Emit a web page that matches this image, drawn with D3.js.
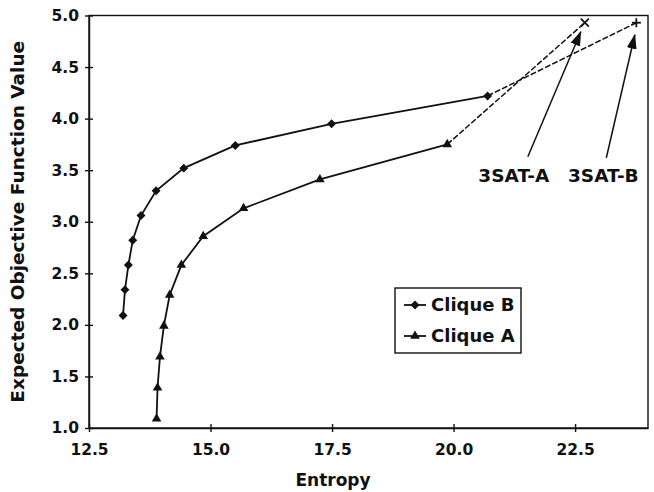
<!DOCTYPE html>
<html>
<head>
<meta charset="utf-8">
<script src="https://cdn.jsdelivr.net/npm/d3@7"></script>
<style>
  body { margin: 0; background: #fff; }
  svg text { font-family: "DejaVu Sans", "Liberation Sans", sans-serif; font-weight: bold; fill: #111; }
</style>
</head>
<body>
<svg id="chart"></svg>
<script>
const xTicks = [12.5, 15.0, 17.5, 20.0, 22.5];
const yTicks = [1.0, 1.5, 2.0, 2.5, 3.0, 3.5, 4.0, 4.5, 5.0];

const cliqueBEntropy = [13.20, 13.24, 13.31, 13.40, 13.57, 13.88, 14.45, 15.51, 17.49, 20.70];
const cliqueBValue   = [2.09, 2.34, 2.58, 2.82, 3.06, 3.30, 3.52, 3.74, 3.95, 4.22];

const cliqueAEntropy = [13.89, 13.91, 13.96, 14.04, 14.16, 14.40, 14.85, 15.68, 17.25, 19.87];
const cliqueAValue   = [1.09, 1.39, 1.69, 1.99, 2.29, 2.58, 2.86, 3.13, 3.41, 3.75];

const satLabels  = ["3SAT-A", "3SAT-B"];
const satEntropy = [22.70, 23.76];
const satValue   = [4.93, 4.93];

const legendLabels = ["Clique B", "Clique A"];

const width = 654, height = 492;
const margin = { top: 15.5, right: 6, bottom: 64, left: 89 };
const w = width - margin.left - margin.right;
const h = height - margin.top - margin.bottom;

const svg = d3.select("#chart").attr("width", width).attr("height", height);
const g = svg.append("g").attr("transform", `translate(${margin.left},${margin.top})`);

const x = d3.scaleLinear().domain([12.5, 24]).range([0, w]);
const y = d3.scaleLinear().domain([1, 5]).range([h, 0]);

// plot border
g.append("rect").attr("width", w).attr("height", h)
  .attr("fill", "none").attr("stroke", "#111").attr("stroke-width", 1.4);

const xAxis = g.append("g").attr("transform", `translate(0,${h})`)
  .call(d3.axisBottom(x).tickValues(xTicks).tickFormat(d3.format(".1f")).tickSizeOuter(0));
xAxis.selectAll(".tick line").attr("y1", -4).attr("y2", 4).attr("stroke", "#111").attr("stroke-width", 1.4);
xAxis.selectAll(".tick text").attr("y", 16).attr("font-size", 15.5);
xAxis.select(".domain").attr("stroke", "#111").attr("stroke-width", 1.4);

const yAxis = g.append("g")
  .call(d3.axisLeft(y).tickValues(yTicks).tickFormat(d3.format(".1f")).tickSizeOuter(0));
yAxis.selectAll(".tick line").attr("x1", -4).attr("x2", 4).attr("stroke", "#111").attr("stroke-width", 1.4);
yAxis.selectAll(".tick text").attr("x", -10).attr("font-size", 15.5);
yAxis.select(".domain").attr("stroke", "#111").attr("stroke-width", 1.4);

svg.append("text").attr("x", 333).attr("y", 486)
  .attr("text-anchor", "middle").attr("font-size", 17).text("Entropy");

svg.append("text")
  .attr("transform", `translate(24,${margin.top + h / 2}) rotate(-90)`)
  .attr("text-anchor", "middle").attr("font-size", 18.5)
  .text("Expected Objective Function Value");

const line = d3.line().x(d => x(d[0])).y(d => y(d[1]));
const ptsB = cliqueBEntropy.map((e, i) => [e, cliqueBValue[i]]);
const ptsA = cliqueAEntropy.map((e, i) => [e, cliqueAValue[i]]);

g.append("path").attr("d", line(ptsB)).attr("fill", "none").attr("stroke", "#111").attr("stroke-width", 1.8);
g.append("path").attr("d", line(ptsA)).attr("fill", "none").attr("stroke", "#111").attr("stroke-width", 1.8);

// dashed links to the 3SAT points
g.append("path").attr("d", line([ptsB[ptsB.length - 1], [satEntropy[1], satValue[1]]]))
  .attr("fill", "none").attr("stroke", "#111").attr("stroke-width", 1.5).attr("stroke-dasharray", "6,2");
g.append("path").attr("d", line([ptsA[ptsA.length - 1], [satEntropy[0], satValue[0]]]))
  .attr("fill", "none").attr("stroke", "#111").attr("stroke-width", 1.5).attr("stroke-dasharray", "6,2");

const diamond = d3.symbol(d3.symbolSquare, 40)();
const triangle = d3.symbol(d3.symbolTriangle, 40)();

g.selectAll(".dia").data(ptsB).enter().append("path")
  .attr("d", diamond)
  .attr("transform", d => `translate(${x(d[0])},${y(d[1])}) rotate(45)`)
  .attr("fill", "#111");

g.selectAll(".tri").data(ptsA).enter().append("path")
  .attr("d", triangle)
  .attr("transform", d => `translate(${x(d[0])},${y(d[1])})`)
  .attr("fill", "#111");

// 3SAT-A: x mark, 3SAT-B: plus mark
const crossA = g.append("g").attr("transform", `translate(${x(satEntropy[0])},${y(satValue[0])})`)
  .attr("stroke", "#111").attr("stroke-width", 1.8);
crossA.append("line").attr("x1", -4).attr("y1", -4).attr("x2", 4).attr("y2", 4);
crossA.append("line").attr("x1", -4).attr("y1", 4).attr("x2", 4).attr("y2", -4);
const plusB = g.append("g").attr("transform", `translate(${x(satEntropy[1])},${y(satValue[1])})`)
  .attr("stroke", "#111").attr("stroke-width", 1.8);
plusB.append("line").attr("x1", -4.5).attr("x2", 4.5);
plusB.append("line").attr("y1", -4.5).attr("y2", 4.5);

// annotation arrows
svg.append("defs").append("marker")
  .attr("id", "head").attr("markerUnits", "userSpaceOnUse")
  .attr("markerWidth", 15).attr("markerHeight", 10)
  .attr("refX", 14).attr("refY", 5).attr("orient", "auto")
  .append("path").attr("d", "M0,0 L15,5 L0,10 Z").attr("fill", "#111");

const annOffsets = [
  { tail: [-57, 134], tip: [-4, 9], text: [-71, 159] },
  { tail: [-30, 135], tip: [-1.5, 12], text: [-33, 159] }
];

satLabels.forEach((lab, i) => {
  const px = x(satEntropy[i]), py = y(satValue[i]);
  const o = annOffsets[i];
  g.append("line")
    .attr("x1", px + o.tail[0]).attr("y1", py + o.tail[1])
    .attr("x2", px + o.tip[0]).attr("y2", py + o.tip[1])
    .attr("stroke", "#111").attr("stroke-width", 1.5)
    .attr("marker-end", "url(#head)");
  g.append("text").attr("x", px + o.text[0]).attr("y", py + o.text[1])
    .attr("text-anchor", "middle").attr("font-size", 18.5).text(lab);
});

// legend
const legend = svg.append("g").attr("transform", "translate(395,288)");
legend.append("rect").attr("width", 126).attr("height", 65)
  .attr("fill", "#fff").attr("stroke", "#111").attr("stroke-width", 1.4);
const legendSyms = [diamond, triangle];
legendLabels.forEach((lab, i) => {
  const ly = 17 + i * 31;
  legend.append("line").attr("x1", 9).attr("x2", 31).attr("y1", ly).attr("y2", ly)
    .attr("stroke", "#111").attr("stroke-width", 1.8);
  legend.append("path").attr("d", legendSyms[i])
    .attr("transform", `translate(20,${ly})` + (i === 0 ? " rotate(45)" : ""))
    .attr("fill", "#111");
  legend.append("text").attr("x", 36).attr("y", ly).attr("dy", "0.36em")
    .attr("font-size", 18).text(lab);
});
</script>
</body>
</html>
